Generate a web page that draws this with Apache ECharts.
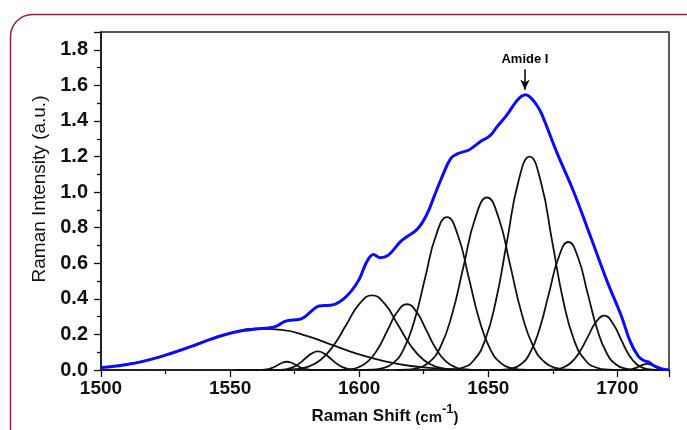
<!DOCTYPE html>
<html><head><meta charset="utf-8">
<script src="https://cdn.jsdelivr.net/npm/echarts@6/dist/echarts.min.js"></script>
<style>html,body{margin:0;padding:0;background:#fff}#c{width:687px;height:430px}</style>
</head><body><div id="c"></div>
<script>
// ---- axis settings ----
const xMin = 1500, xMax = 1720, xStep = 50;
const yMin = 0, yMax = 1.9, yStep = 0.2;

// ---- measured spectrum (blue) ----
const spectrum = [[1500,0.014],[1505,0.021],[1510,0.032],[1515,0.045],[1520,0.063],[1525,0.084],[1530,0.108],[1535,0.133],[1540,0.160],[1545,0.186],[1550,0.207],[1555,0.222],[1560,0.231],[1565,0.237],[1568,0.247],[1571,0.272],[1573,0.280],[1576.5,0.284],[1579,0.300],[1582,0.338],[1584.5,0.360],[1588.5,0.364],[1591,0.372],[1594,0.400],[1597,0.445],[1600,0.510],[1603,0.610],[1605.5,0.650],[1608,0.632],[1610,0.636],[1612,0.655],[1616,0.722],[1619,0.755],[1622,0.785],[1624.5,0.830],[1627,0.900],[1629,0.975],[1632.5,1.100],[1635.5,1.190],[1638,1.215],[1640,1.225],[1642.5,1.237],[1645,1.262],[1647,1.285],[1649.5,1.305],[1651.5,1.330],[1653.5,1.370],[1657,1.430],[1661,1.513],[1663,1.540],[1664.5,1.548],[1666.5,1.530],[1668.5,1.495],[1670.5,1.445],[1676.5,1.225],[1683,1.005],[1689.5,0.755],[1696,0.500],[1701.5,0.305],[1705,0.160],[1708,0.080],[1710,0.055],[1712,0.046],[1714.5,0.022],[1717,0.008],[1720,0.000]];

// ---- fitted component bands (black) ----
const band1563 = [[1500,0.014],[1510,0.032],[1520,0.063],[1530,0.108],[1540,0.161],[1550,0.208],[1560,0.233],[1570,0.226],[1580,0.191],[1590,0.139],[1600,0.088],[1610,0.049],[1620,0.023],[1630,0.010],[1640,0.003],[1650,0.001],[1660,0.0003],[1670,0]];
const band1572 = [[1552,0],[1560,0.0001],[1562,0.0008],[1564,0.0035],[1566,0.0108],[1568,0.0245],[1570,0.0399],[1572,0.047],[1574,0.0399],[1576,0.0245],[1578,0.0108],[1580,0.0035],[1582,0.0008],[1584,0.0001],[1592,0]];
const band1584 = [[1560,0],[1566.5,0.0002],[1569,0.0012],[1571.5,0.0046],[1574,0.0142],[1576.5,0.0341],[1579,0.0637],[1581.5,0.0927],[1584,0.105],[1586.5,0.0927],[1589,0.0637],[1591.5,0.0341],[1594,0.0142],[1596.5,0.0046],[1599,0.0012],[1601.5,0.0002],[1608,0]];
const band1605 = [[1565,0.0001],[1570,0.0009],[1575,0.0047],[1580,0.0184],[1585,0.0568],[1590,0.1364],[1595,0.2547],[1600,0.3707],[1605,0.42],[1610,0.3707],[1615,0.2547],[1620,0.1364],[1625,0.0568],[1630,0.0184],[1635,0.0047],[1640,0.0009],[1645,0.0001]];
const band1618 = [[1588.5,0.0001],[1592.25,0.0008],[1596,0.0041],[1599.75,0.0162],[1603.5,0.0501],[1607.25,0.1201],[1611,0.2244],[1614.75,0.3265],[1618.5,0.37],[1622.25,0.3265],[1626,0.2244],[1629.75,0.1201],[1633.5,0.0501],[1637.25,0.0162],[1641,0.0041],[1644.75,0.0008],[1648.5,0.0001]];
const band1634 = [[1600.4,0.0003],[1604.6,0.0019],[1608.8,0.0095],[1613,0.0378],[1617.2,0.1164],[1621.4,0.2792],[1625.6,0.5216],[1629.8,0.759],[1634,0.86],[1638.2,0.759],[1642.4,0.5216],[1646.6,0.2792],[1650.8,0.1164],[1655,0.0378],[1659.2,0.0095],[1663.4,0.0019],[1667.6,0.0003]];
const band1650 = [[1613.5,0.0003],[1618,0.0021],[1622.5,0.0108],[1627,0.0426],[1631.5,0.1312],[1636,0.315],[1640.5,0.5883],[1645,0.856],[1649.5,0.97],[1654,0.856],[1658.5,0.5883],[1663,0.315],[1667.5,0.1312],[1672,0.0426],[1676.5,0.0108],[1681,0.0021],[1685.5,0.0003]];
const band1666 = [[1631.2,0.0004],[1635.55,0.0026],[1639.9,0.0133],[1644.25,0.0527],[1648.6,0.1624],[1652.95,0.3896],[1657.3,0.7278],[1661.65,1.059],[1666,1.2],[1670.35,1.059],[1674.7,0.7278],[1679.05,0.3896],[1683.4,0.1624],[1687.75,0.0527],[1692.1,0.0133],[1696.45,0.0026],[1700.8,0.0004]];
const band1681 = [[1651.4,0.0002],[1655.1,0.0016],[1658.8,0.008],[1662.5,0.0316],[1666.2,0.0974],[1669.9,0.2338],[1673.6,0.4367],[1677.3,0.6354],[1681,0.72],[1684.7,0.6354],[1688.4,0.4367],[1692.1,0.2338],[1695.8,0.0974],[1699.5,0.0316],[1703.2,0.008],[1706.9,0.0016],[1710.6,0.0002]];
const band1695 = [[1669,0.0001],[1672.25,0.0007],[1675.5,0.0034],[1678.75,0.0134],[1682,0.0414],[1685.25,0.0994],[1688.5,0.1856],[1691.75,0.27],[1695,0.306],[1698.25,0.262],[1701.5,0.17],[1704.5,0.085],[1707.5,0.033],[1710.5,0.010],[1713.5,0.0025],[1717,0.0004],[1720,0]];
const band1711 = [[1700,0],[1702.5,0.0004],[1704,0.0015],[1705.5,0.0047],[1707,0.0114],[1708.5,0.0212],[1710,0.0309],[1711.5,0.035],[1713,0.0309],[1714.5,0.0212],[1716,0.0114],[1717.5,0.0047],[1719,0.0015],[1720,0.0006]];
const bands = [band1563, band1572, band1584, band1605, band1618, band1634, band1650, band1666, band1681, band1695, band1711];

// ---- annotation ----
const amideLabel = 'Amide I';
const amideX = 1664.2, amideArrowTop = 1.69, amideArrowTip = 1.575;

const chart = echarts.init(document.getElementById('c'), null, {renderer: 'canvas'});
const font = '"Liberation Sans", Arial, sans-serif';

const series = bands.map(b => ({
  type: 'line', data: b, smooth: 0.5, showSymbol: false, symbol: 'none',
  lineStyle: {color: '#111', width: 1.8}, z: 2, silent: true
}));
series.push({
  type: 'line', data: spectrum, smooth: 0.4, showSymbol: false, symbol: 'none',
  lineStyle: {color: '#0a0aff', width: 3}, z: 3, silent: true,
  markLine: {
    silent: true, symbol: ['none', 'arrow'], symbolSize: [7, 10],
    lineStyle: {color: '#000', width: 1.5, type: 'solid'},
    label: {show: true, position: 'start', formatter: amideLabel, fontFamily: font, fontWeight: 'bold', fontSize: 13, color: '#000', distance: 3},
    data: [[{coord: [amideX, amideArrowTop]}, {coord: [amideX, amideArrowTip]}]]
  }
});

chart.setOption({
  backgroundColor: '#fff',
  animation: false,
  grid: {left: 101, top: 32, right: 18, bottom: 48, show: true, borderColor: '#222', borderWidth: 1.5, backgroundColor: 'transparent'},
  xAxis: {
    type: 'value', min: xMin, max: xMax, interval: xStep,
    axisLine: {show: true, lineStyle: {color: '#111', width: 1.5}},
    axisTick: {show: true, inside: false, length: 7, lineStyle: {color: '#111', width: 1.3}},
    minorTick: {show: true, splitNumber: 2, length: 4, lineStyle: {color: '#111', width: 1.3}},
    splitLine: {show: false},
    axisLabel: {showMaxLabel: false, margin: 9, color: '#111', fontFamily: font, fontWeight: 'bold', fontSize: 19, formatter: v => String(v)},
    name: '{a|Raman Shift }{b|(cm}{c|-1}{b|)}', nameLocation: 'middle', nameGap: 29,
    nameTextStyle: {rich: {
      a: {fontFamily: font, fontWeight: 'bold', fontSize: 17, color: '#111', verticalAlign: 'bottom'},
      b: {fontFamily: font, fontWeight: 'bold', fontSize: 15, color: '#111', verticalAlign: 'bottom'},
      c: {fontFamily: font, fontWeight: 'bold', fontSize: 13, color: '#111', verticalAlign: 'top', padding: [0,0,9,0]}
    }}
  },
  yAxis: {
    type: 'value', min: yMin, max: yMax, interval: yStep,
    axisLine: {show: true, lineStyle: {color: '#111', width: 1.5}},
    axisTick: {show: true, inside: false, length: 7, lineStyle: {color: '#111', width: 1.3}},
    minorTick: {show: true, splitNumber: 2, length: 4, lineStyle: {color: '#111', width: 1.3}},
    splitLine: {show: false},
    axisLabel: {showMaxLabel: false, margin: 13, color: '#111', fontFamily: font, fontWeight: 'bold', fontSize: 20, formatter: v => v.toFixed(1)}
  },
  graphic: [
    {type: 'rect', left: 8, top: 12, shape: {width: 700, height: 460, r: 22}, style: {fill: 'none', stroke: '#9c1c4b', lineWidth: 1.5}, silent: true, z: -10},
    {type: 'text', x: 40, y: 189, rotation: Math.PI / 2, style: {text: 'Raman Intensity (a.u.)', fontFamily: font, fontSize: 19, fill: '#111', align: 'center', verticalAlign: 'middle'}, silent: true}
  ],
  series: series
});
</script></body></html>
